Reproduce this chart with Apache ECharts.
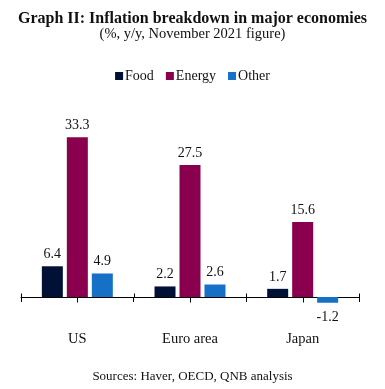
<!DOCTYPE html>
<html><head><meta charset="utf-8">
<script src="https://cdn.jsdelivr.net/npm/echarts@6/dist/echarts.min.js"></script>
<style>html,body{margin:0;padding:0;background:#fff}#c{width:385px;height:389px}</style>
</head><body><div id="c"></div>
<script>
const categories = ['US', 'Euro area', 'Japan'];
const food = [6.4, 2.2, 1.7];
const energy = [33.3, 27.5, 15.6];
const other = [4.9, 2.6, -1.2];
const seriesNames = ['Food', 'Energy', 'Other'];
const colors = ['#001135', '#8a004e', '#1570c6'];

const chart = echarts.init(document.getElementById('c'));
const font = '"Liberation Serif", "Times New Roman", serif';
function mk(name, data, color) {
  return {
    name, type: 'bar', data, barWidth: 21, barGap: '19%', clip: false,
    itemStyle: { color },
    label: {
      show: true, position: 'top', distance: 5, color: '#111',
      fontFamily: font, fontSize: 14,
      formatter: p => p.value.toFixed(1)
    }
  };
}
const series = [mk(seriesNames[0], food, colors[0]), mk(seriesNames[1], energy, colors[1]), mk(seriesNames[2], other, colors[2])];
series[2].data = other.map(v => v < 0 ? { value: v, label: { position: 'bottom', distance: 8 } } : v);

chart.setOption({
  animation: false,
  title: [
    { text: 'Graph II: Inflation breakdown in major economies', left: 'center', top: 6,
      textStyle: { fontFamily: font, fontSize: 16, fontWeight: 'bold', color: '#111' } },
    { text: '(%, y/y, November 2021 figure)', left: 'center', top: 22,
      textStyle: { fontFamily: font, fontSize: 14.5, fontWeight: 'normal', color: '#111' } },
    { text: 'Sources: Haver, OECD, QNB analysis', left: 'center', top: 365,
      textStyle: { fontFamily: font, fontSize: 13, fontWeight: 'normal', color: '#111' } }
  ],
  legend: {
    top: 64, left: 'center', itemWidth: 8, itemHeight: 8, itemGap: 12,
    icon: 'rect', data: seriesNames,
    textStyle: { fontFamily: font, fontSize: 14, color: '#111', padding: [0, 0, 0, -3] }
  },
  grid: { left: 21, right: 26, top: 105, bottom: 92, containLabel: false },
  yAxis: { type: 'value', min: 0, max: 40, show: false, splitLine: { show: false } },
  xAxis: {
    type: 'category', data: categories, boundaryGap: true, position: 'bottom',
    axisLine: { onZero: false, show: true, lineStyle: { color: '#000', width: 1 } },
    axisTick: { show: true, length: 5, lineStyle: { color: '#000' } },
    axisLabel: { show: true, margin: 35, fontFamily: font, fontSize: 14.5, color: '#111' },
    splitLine: { show: false }
  },
  series
});

// extra tick marks derived from the axis scale: up-ticks at category boundaries, down-ticks at centres
const tickEls = [];
const tickStyle = { stroke: '#000', lineWidth: 1 };
categories.forEach((c, i) => {
  const p = chart.convertToPixel({ gridIndex: 0 }, [i, 0]);
  const prev = i > 0 ? chart.convertToPixel({ gridIndex: 0 }, [i - 1, 0]) : null;
  const next = i < categories.length - 1 ? chart.convertToPixel({ gridIndex: 0 }, [i + 1, 0]) : null;
  const w = prev ? p[0] - prev[0] : next[0] - p[0];
  const y = Math.round(p[1]) + 0.5;
  const cx = Math.round(p[0]) + 0.5;
  const lx = Math.round(p[0] - w / 2) + 0.5;
  tickEls.push({ type: 'line', z: 100, shape: { x1: cx, y1: y, x2: cx, y2: y + 5 }, style: tickStyle, silent: true });
  tickEls.push({ type: 'line', z: 100, shape: { x1: lx, y1: y - 4, x2: lx, y2: y }, style: tickStyle, silent: true });
  if (i === categories.length - 1) {
    const rx = Math.round(p[0] + w / 2) + 0.5;
    tickEls.push({ type: 'line', z: 100, shape: { x1: rx, y1: y - 4, x2: rx, y2: y }, style: tickStyle, silent: true });
  }
});
chart.setOption({ graphic: { elements: tickEls } });
</script></body></html>
